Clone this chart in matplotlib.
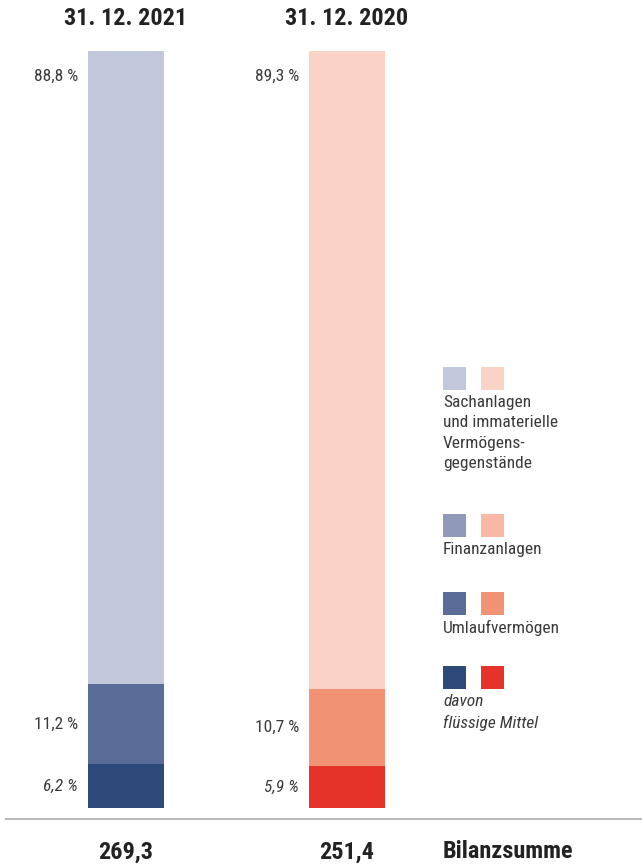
import matplotlib
matplotlib.use("Agg")
import matplotlib.pyplot as plt
from matplotlib import font_manager

# pick a narrow sans if one is installed
installed = {f.name for f in font_manager.fontManager.ttflist}
family = "DejaVu Sans"
for name in ["Roboto Condensed", "Liberation Sans Narrow", "Arial Narrow", "Roboto", "Liberation Sans"]:
    if name in installed:
        family = name
        break
plt.rcParams["font.family"] = [family, "DejaVu Sans"]

# data
years = ["31. 12. 2021", "31. 12. 2020"]
totals = ["269,3", "251,4"]
# drawn segment heights (share of bar height), bottom to top
liquid = [5.8, 5.5]
current_rest = [10.6, 10.2]
fixed = [83.6, 84.3]
# printed labels
lbl_fixed = ["88,8 %", "89,3 %"]
lbl_current = ["11,2 %", "10,7 %"]
lbl_liquid = ["6,2 %", "5,9 %"]

blues = ["#c2c8dc", "#8f9aba", "#5a6d98", "#2d4a7a"]
reds = ["#fbd3c6", "#f7b9a3", "#f29275", "#e5332a"]
legend_labels = ["Sachanlagen\nund immaterielle\nVermögens-\ngegenstände",
                 "Finanzanlagen", "Umlaufvermögen", "davon\nflüssige Mittel"]

W, H = 642, 868
fig = plt.figure(figsize=(W / 100, H / 100), dpi=100)

def fx(x):
    return x / W

def fy(y):
    return 1 - y / H

# axes for the bars: bar top at y=51, bottom at y=808 px
ax = fig.add_axes([fx(15.5), fy(808), fx(442), (808 - 51) / H])
ax.set_xlim(-0.5, 1.5)
ax.set_ylim(0, 100)
ax.axis("off")

x = [0, 1]
bw = 0.344
cols = [blues, reds]
plain = dict(fontsize=12.5, color="#3a3a3a")
for i in x:
    ax.bar(i, liquid[i], bw, color=cols[i][3], linewidth=0)
    ax.bar(i, current_rest[i], bw, bottom=liquid[i], color=cols[i][2], linewidth=0)
    ax.bar(i, fixed[i], bw, bottom=liquid[i] + current_rest[i], color=cols[i][0], linewidth=0)

    lx = i - bw / 2 - 0.045
    top = liquid[i] + current_rest[i] + fixed[i]
    ax.text(lx, top - 3.3, lbl_fixed[i], ha="right", va="center", **plain)
    ax.text(lx, liquid[i] + current_rest[i] / 2, lbl_current[i], ha="right", va="center", **plain)
    ax.text(lx, liquid[i] / 2, lbl_liquid[i], ha="right", va="center", style="italic", **plain)

    ax.text(i, 100 + 4.3, years[i], ha="center", va="center", fontsize=17.5,
            fontweight="bold", color="#222222", clip_on=False)
    ax.text(i, -5.8, totals[i], ha="center", va="center", fontsize=17.5,
            fontweight="bold", color="#222222", clip_on=False)

fig.text(fx(443), fy(852), "Bilanzsumme", ha="left", va="center", fontsize=17.5,
         fontweight="bold", color="#222222")

# separator line
fig.add_artist(plt.Line2D([fx(6), fx(642)], [fy(819), fy(819)], color="#bbbbbb", linewidth=1.5))

# legend
sq_tops = [367, 514, 592, 666]
for k in range(4):
    for j, c in enumerate([blues[k], reds[k]]):
        fig.add_artist(plt.Rectangle((fx(443 + 38 * j), fy(sq_tops[k] + 23)), fx(23), 23 / H,
                                     color=c, linewidth=0))
    fig.text(fx(443), fy(sq_tops[k] + 28), legend_labels[k], ha="left", va="top",
             fontsize=12.5, color="#3a3a3a", linespacing=1.45,
             style="italic" if k == 3 else "normal")

fig.savefig("out.png", dpi=100)
